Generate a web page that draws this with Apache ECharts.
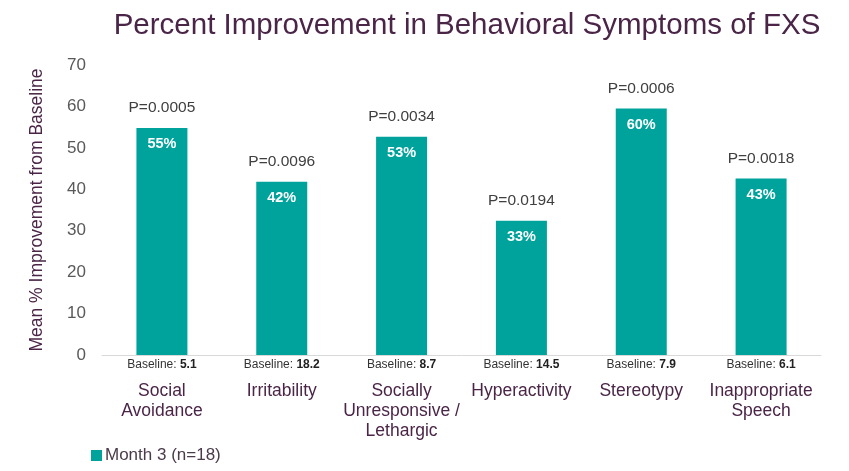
<!DOCTYPE html>
<html><head><meta charset="utf-8">
<script src="https://cdn.jsdelivr.net/npm/echarts@6/dist/echarts.min.js"></script>
<style>html,body{margin:0;padding:0;background:#fff}#c{width:849px;height:471px}</style>
</head><body><div id="c"></div>
<script>
const categories = ['Social\nAvoidance','Irritability','Socially\nUnresponsive /\nLethargic','Hyperactivity','Stereotypy','Inappropriate\nSpeech'];
const baselines = ['5.1','18.2','8.7','14.5','7.9','6.1'];
const values = [54.8, 41.8, 52.7, 32.4, 59.5, 42.6];
const pctLabels = ['55%','42%','53%','33%','60%','43%'];
const pValues = ['P=0.0005','P=0.0096','P=0.0034','P=0.0194','P=0.0006','P=0.0018'];
const yTicks = [0,10,20,30,40,50,60,70];

const purple = '#4B2547';
const teal = '#00A39B';
const chart = echarts.init(document.getElementById('c'));
chart.setOption({
  animation:false,
  title:{text:'Percent Improvement in Behavioral Symptoms of FXS',left:462,textAlign:'center',top:6,
    textStyle:{fontFamily:'Liberation Sans, Arial',fontSize:29.5,fontWeight:'normal',color:purple}},
  legend:{data:['Month 3 (n=18)'],left:86,top:442,itemWidth:11,itemHeight:11,itemGap:4,icon:'rect',
    textStyle:{fontFamily:'Liberation Sans, Arial',fontSize:17,color:'#4a3a4a',padding:[0,0,0,-2]}},
  grid:{left:102,right:28,top:65,bottom:116},
  xAxis:{type:'category',data:categories,
    axisLine:{lineStyle:{color:'#d9d9d9',width:1}},axisTick:{show:false},
    axisLabel:{interval:0,margin:2,
      formatter:(v,i)=>{
        const lines=v.split('\n').map(s=>'{c|'+s+'}').join('\n');
        return '{b|Baseline: }{bv|'+baselines[i]+'}\n{s| }\n'+lines;
      },
      rich:{
        b:{fontFamily:'Liberation Sans, Arial',fontSize:12,color:'#333',lineHeight:15},
        bv:{fontFamily:'Liberation Sans, Arial',fontSize:12,fontWeight:'bold',color:'#222',lineHeight:15},
        s:{fontSize:4,lineHeight:9},
        c:{fontFamily:'Liberation Sans, Arial',fontSize:17.5,color:purple,lineHeight:20}
      }}},
  yAxis:{type:'value',min:0,max:70,interval:10,
    name:'Mean % Improvement from Baseline',nameLocation:'middle',nameGap:56,
    nameTextStyle:{fontFamily:'Liberation Sans, Arial',fontSize:17.5,color:purple},
    splitLine:{show:false},axisLine:{show:false},axisTick:{show:false},
    axisLabel:{margin:16,fontFamily:'Liberation Sans, Arial',fontSize:17,color:'#595959',
      formatter:v=>yTicks.includes(v)?String(v):''}},
  series:[
    {name:'Month 3 (n=18)',type:'bar',data:values,barWidth:51,itemStyle:{color:teal},
      label:{show:true,position:'insideTop',distance:9,color:'#fff',fontWeight:'bold',
        fontFamily:'Liberation Sans, Arial',fontSize:14.5,formatter:p=>pctLabels[p.dataIndex]}},
    {name:'p',type:'bar',data:values,barWidth:51,barGap:'-100%',silent:true,
      itemStyle:{color:'rgba(0,0,0,0)'},
      label:{show:true,position:'top',distance:12,color:'#404040',
        fontFamily:'Liberation Sans, Arial',fontSize:15.5,formatter:p=>pValues[p.dataIndex]}}
  ]
});
</script></body></html>
